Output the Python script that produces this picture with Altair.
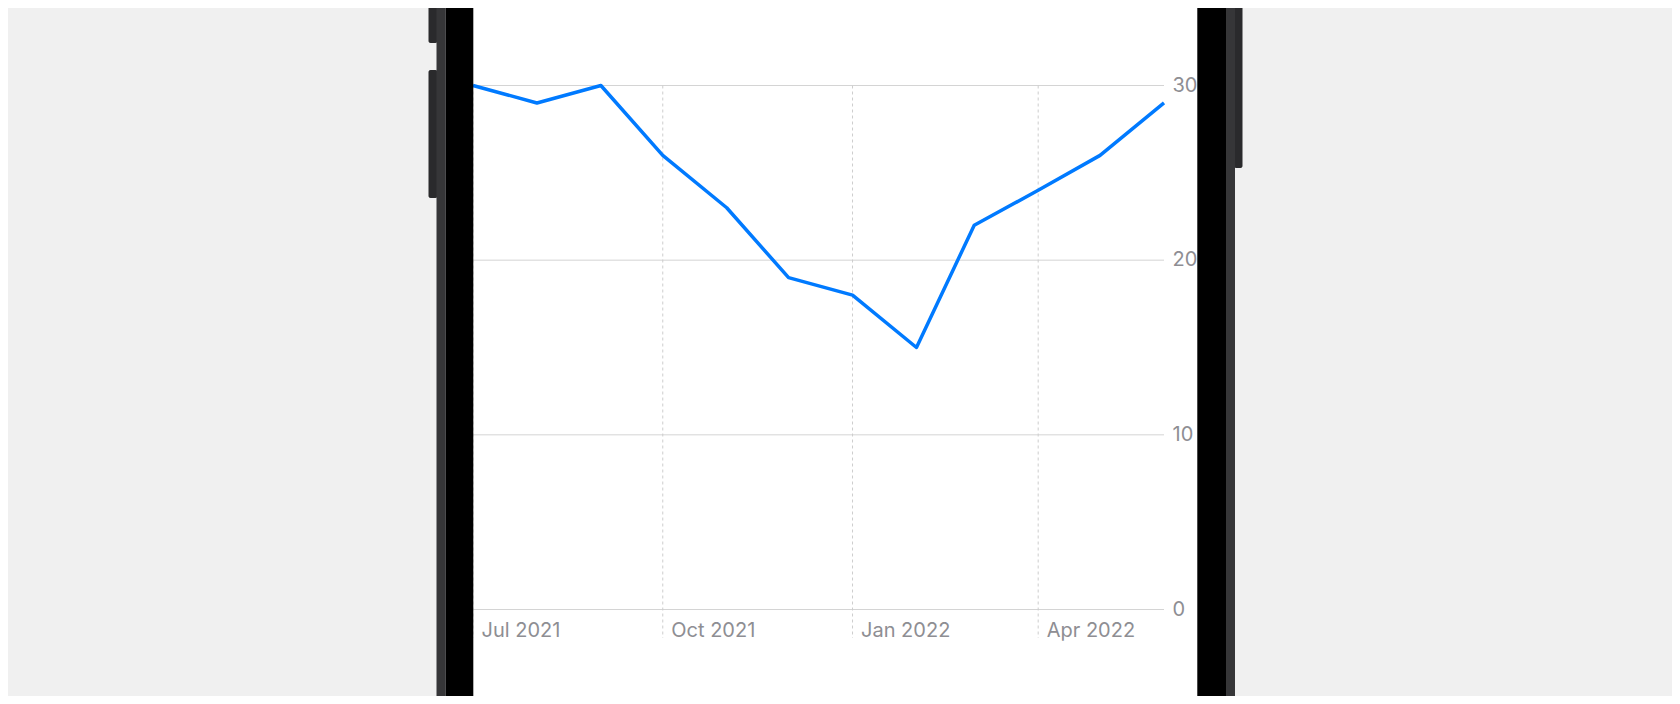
import altair as alt
import pandas as pd

# ---- data ----
months = ["2021-07-01", "2021-08-01", "2021-09-01", "2021-10-01", "2021-11-01", "2021-12-01",
          "2022-01-01", "2022-02-01", "2022-03-01", "2022-04-01", "2022-05-01", "2022-06-01"]
values = [30, 29, 30, 26, 23, 19, 18, 15, 22, 24, 26, 29]
y_ticks = [0, 10, 20, 30]
y_labels = ["0", "10", "20", "30"]
x_ticks = ["2021-07-01", "2021-10-01", "2022-01-01", "2022-04-01"]
x_labels = ["Jul 2021", "Oct 2021", "Jan 2022", "Apr 2022"]

df = pd.DataFrame({"month": months, "value": values})
grid_df = pd.DataFrame({"v": y_ticks, "lbl": y_labels,
                        "start": [months[0]] * len(y_ticks), "end": [months[-1]] * len(y_ticks)})
quarter_df = pd.DataFrame({"q": x_ticks, "lbl": x_labels, "top": [max(y_ticks)] * len(x_ticks)})


def dt(s):
    t = pd.Timestamp(s)
    return alt.DateTime(year=t.year, month=t.month, date=t.day, utc=True)


W, H = 1664, 688
X0, X1 = 465, 1156      # pixel range of the date axis
Y0, Y1 = 601.5, 77.5    # pixel range of the value axis

xscale = alt.Scale(type="utc", domain=[dt(months[0]), dt(months[-1])], range=[X0, X1])
yscale = alt.Scale(domain=[0, 30], range=[Y0, Y1], nice=False, zero=False)

LABEL_FONT = "Inter"
LABEL_COLOR = "#8e8e93"
LABEL_SIZE = 20
GRID = "#d4d4d4"

one = alt.Data(values=[{"a": 1}])


def rect(x, x2, y, y2, color, r=0):
    return alt.Chart(one).mark_rect(color=color, cornerRadius=r).encode(
        x=alt.value(x), x2=alt.value(x2), y=alt.value(y), y2=alt.value(y2))


# phone body (decoration)
btn1 = rect(420.5, 429.5, -4, 35, "#2a2a2c", 2)
btn2 = rect(420.5, 429.5, 62, 190, "#2a2a2c", 2)
btn3 = rect(1226, 1234.5, -4, 160, "#2a2a2c", 2)
frame_l = rect(428.5, 437.7, 0, H, "#363638")
frame_r = rect(1218.7, 1227, 0, H, "#363638")
screen = rect(465.3, 1189.3, 0, H, "#ffffff")
bezel_l = rect(437.7, 465.3, 0, H, "#000000")
bezel_r = rect(1189.3, 1218.7, 0, H, "#000000")

hgrid = alt.Chart(grid_df).mark_rule(color=GRID, strokeWidth=1).encode(
    y=alt.Y("v:Q", scale=yscale, axis=None),
    x=alt.X("start:T", scale=xscale, axis=None),
    x2="end:T",
)

vgrid = alt.Chart(quarter_df).mark_rule(color="#cdcdcd", strokeWidth=1, strokeDash=[3, 3]).encode(
    x=alt.X("q:T", scale=xscale, axis=None),
    y=alt.Y("top:Q", scale=yscale, axis=None),
    y2=alt.value(630),
)

ylab = alt.Chart(grid_df).mark_text(
    align="left", baseline="middle", dx=8.5, font=LABEL_FONT, fontSize=LABEL_SIZE, color=LABEL_COLOR
).encode(
    y=alt.Y("v:Q", scale=yscale, axis=None),
    x=alt.value(X1),
    text="lbl:N",
)

xlab = alt.Chart(quarter_df).mark_text(
    align="left", baseline="alphabetic", dx=8.5, font=LABEL_FONT, fontSize=LABEL_SIZE, color=LABEL_COLOR
).encode(
    x=alt.X("q:T", scale=xscale, axis=None),
    y=alt.value(628.7),
    text="lbl:N",
)

line = alt.Chart(df).mark_line(color="#007AFF", strokeWidth=3.5, strokeJoin="round").encode(
    x=alt.X("month:T", scale=xscale, axis=None),
    y=alt.Y("value:Q", scale=yscale, axis=None),
)

chart = alt.layer(
    btn1, btn2, btn3, frame_l, frame_r, screen, hgrid, vgrid, line, ylab, xlab, bezel_l, bezel_r
).properties(
    width=W, height=H, padding=0, autosize=alt.AutoSizeParams(type="none"),
    background="#f0f0f0",
).configure_view(stroke=None)

chart.save("out.html", embed_options={"renderer": "svg", "actions": False})
